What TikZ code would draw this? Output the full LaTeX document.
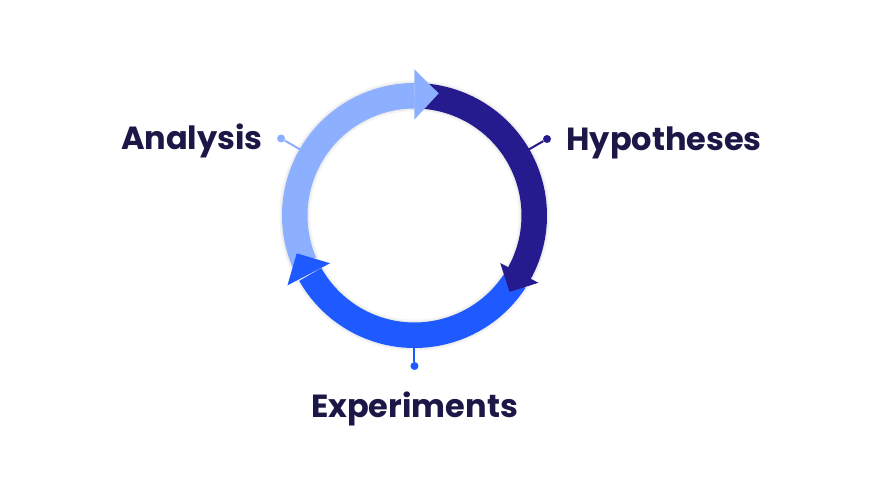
\documentclass[tikz,border=0pt]{standalone}
\usepackage{fontspec}
\usetikzlibrary{%
  positioning
 ,calc
}
\newfontfamily\lblfont{Poppins}
\definecolor{lightarc}{HTML}{8CB0FF}
\definecolor{darkarc}{HTML}{251B8F}
\definecolor{midarc}{HTML}{1E5AFF}
\definecolor{ink}{HTML}{1B1746}
\tikzstyle{ring}=[line width=25.5pt]
\tikzstyle{halo}=[black,line width=31pt,opacity=0.04]
\tikzstyle{pin}=[circle,inner sep=0pt,minimum size=8pt]
\tikzstyle{stalk}=[line width=2pt]
\tikzstyle{lbl}=[font=\lblfont\bfseries\fontsize{32}{32}\selectfont,text=ink,inner sep=0pt,text height=23pt,text depth=0pt]

\begin{document}
\begin{tikzpicture}[x=1pt,y=1pt]
      \useasboundingbox (-414.5,-262.5) rectangle (458.5,215.5);
      % soft shadow under the ring
      \draw[halo] (0,0) circle[radius=119.75];
      \draw[halo,line width=28pt] (0,0) circle[radius=119.75];
      % arc bodies
      \draw[ring,lightarc] (203:119.75) arc[start angle=203,end angle=90,radius=119.75];
      \draw[ring,darkarc] (85:119.75) arc[start angle=85,end angle=-29,radius=119.75];
      \draw[ring,midarc] (-33:119.75) arc[start angle=-33,end angle=-150.5,radius=119.75];
      % arrow heads
      \fill[lightarc] (90:96) -- (90:146) -- (78.8:124.5) -- cycle;
      \fill[darkarc] (-29:98) -- (-28.5:141) -- (-38.8:122) -- cycle;
      \fill[midarc] (-150.5:97) -- (-151.2:145) -- (-162.2:123.7) -- cycle;
      % pins
      \coordinate (r_0) at (150:132);
      \coordinate (r_1) at (30:132);
      \coordinate (r_2) at (-90:132);
      \node[pin,fill=lightarc] (p_0) at (150:154) {};
      \node[pin,fill=darkarc] (p_1) at (30:153) {};
      \node[pin,fill=midarc] (p_2) at (-90:150.5) {};
      \path[stalk]
        (r_0) edge[lightarc] (p_0)
        (r_1) edge[darkarc] (p_1)
        (r_2) edge[midarc] (p_2);
      % labels
      \node[lbl,left=14pt of p_0] (t_0) {Analysis};
      \node[lbl,right=15pt of p_1] (t_1) {Hypotheses};
      \node[lbl,below=24pt of p_2] (t_2) {Experiments};
    \end{tikzpicture}
\end{document}
